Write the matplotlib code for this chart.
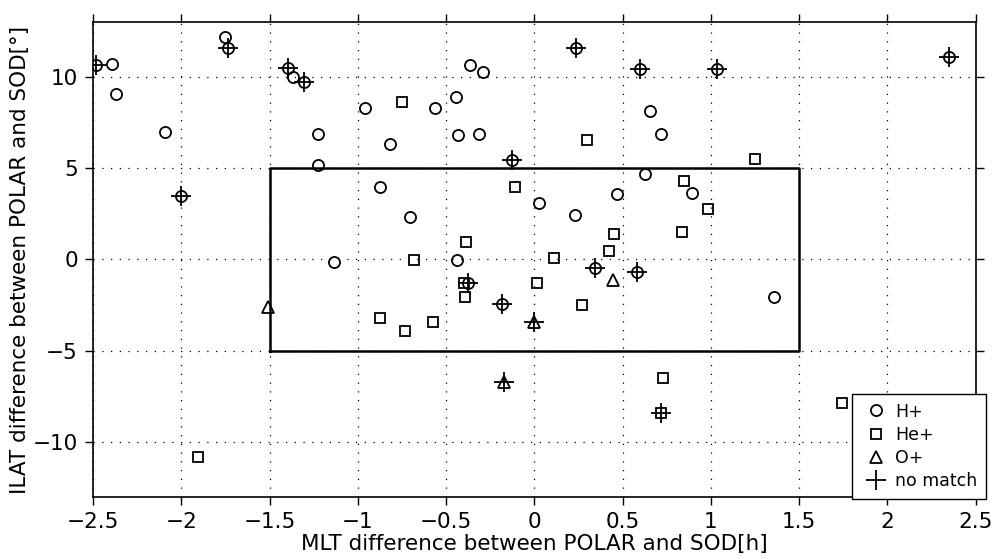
import matplotlib
matplotlib.use("Agg")
import matplotlib.pyplot as plt

# H+ events (circles)
h_mlt = [-2.485, -2.394, -2.372, -2.09, -2.003, -1.751, -1.737, -1.398, -1.366, -1.307,
         -1.228, -1.226, -0.960, -0.820, -0.877, -1.134, -0.562, -0.443, -0.363, -0.292,
         -0.433, -0.312, -0.127, -0.707, 0.235, 0.027, 0.229, 0.467, 0.597, 0.656,
         0.718, 0.627, 0.892, -0.437, 1.032, 2.349, -0.374, -0.184, 0.341, 0.582, 1.356]
h_ilat = [10.66, 10.69, 9.03, 6.99, 3.50, 12.19, 11.55, 10.49, 10.0, 9.73,
          6.85, 5.17, 8.29, 6.34, 3.95, -0.15, 8.31, 8.91, 10.67, 10.25,
          6.83, 6.87, 5.46, 2.30, 11.55, 3.10, 2.42, 3.61, 10.40, 8.12,
          6.89, 4.70, 3.66, -0.02, 10.42, 11.09, -1.27, -2.44, -0.46, -0.66, -2.08]

# He+ events (squares)
he_mlt = [-0.749, -0.110, 0.297, 0.450, 0.420, 0.848, 0.981, 0.839, -0.684, -0.386,
          0.110, 1.252, -0.399, -0.392, -0.573, -0.735, -0.875, 0.014, 0.271, 0.728,
          0.716, -1.905, 1.741]
he_ilat = [8.60, 3.99, 6.54, 1.38, 0.44, 4.30, 2.75, 1.48, -0.05, 0.95,
           0.07, 5.48, -1.29, -2.08, -3.42, -3.93, -3.19, -1.29, -2.48, -6.48,
           -8.38, -10.82, -7.85]

# O+ events (triangles)
o_mlt = [-1.509, -0.001, 0.443, -0.171]
o_ilat = [-2.6, -3.42, -1.11, -6.70]

# no match (plus)
nm_mlt = [-2.485, -2.003, -1.737, -1.398, -1.307, -0.127, 0.235, 0.597, 1.032, 2.349,
          -0.374, -0.184, 0.341, 0.582, -0.001, -0.171, 0.716]
nm_ilat = [10.66, 3.50, 11.55, 10.49, 9.73, 5.46, 11.55, 10.40, 10.42, 11.09,
           -1.27, -2.44, -0.46, -0.66, -3.42, -6.70, -8.38]

# selection box
box_x = [-1.5, 1.5, 1.5, -1.5, -1.5]
box_y = [-5, -5, 5, 5, -5]

xticks = [-2.5, -2, -1.5, -1, -0.5, 0, 0.5, 1, 1.5, 2, 2.5]
xlabels = ['\u22122.5', '\u22122', '\u22121.5', '\u22121', '\u22120.5', '0', '0.5', '1', '1.5', '2', '2.5']
yticks = [-10, -5, 0, 5, 10]
ylabels = ['\u221210', '\u22125', '0', '5', '10']

fig = plt.figure(figsize=(9.94, 5.59), dpi=100)
ax = fig.add_axes([0.0936, 0.111, 0.888, 0.8497])

mk = dict(linestyle='none', mfc='none', mec='black', mew=1.3)
ax.plot(h_mlt, h_ilat, marker='o', ms=8, label='H+', **mk)
ax.plot(he_mlt, he_ilat, marker='s', ms=6.5, label='He+', **mk)
ax.plot(o_mlt, o_ilat, marker='^', ms=9, label='O+', **mk)
ax.plot(nm_mlt, nm_ilat, marker='+', ms=14, label='no match', **mk)
ax.plot(box_x, box_y, color='black', lw=1.8)

ax.set_xlim(-2.5, 2.5)
ax.set_ylim(-13, 13)
ax.set_xticks(xticks)
ax.set_xticklabels(xlabels)
ax.set_yticks(yticks)
ax.set_yticklabels(ylabels)
ax.grid(True, linestyle=(0, (1, 6)), color='black', linewidth=0.9)
ax.set_axisbelow(True)
ax.tick_params(direction='out', top=True, right=True, length=6, width=1,
               labelsize=15.5, pad=5)
for s in ax.spines.values():
    s.set_linewidth(1.2)

ax.set_xlabel('MLT difference between POLAR and SOD[h]', fontsize=15.5, labelpad=1)
ax.set_ylabel('ILAT difference between POLAR and SOD[\u00b0]', fontsize=15.5, labelpad=2)

leg = ax.legend(loc='lower right', bbox_to_anchor=(1.012, -0.004), fontsize=12.5,
                fancybox=False, edgecolor='black', framealpha=1, borderaxespad=0,
                handlelength=1.8, handletextpad=0.2, labelspacing=0.3, borderpad=0.5)
leg.get_frame().set_linewidth(1.0)

fig.savefig('out.png', dpi=100)
